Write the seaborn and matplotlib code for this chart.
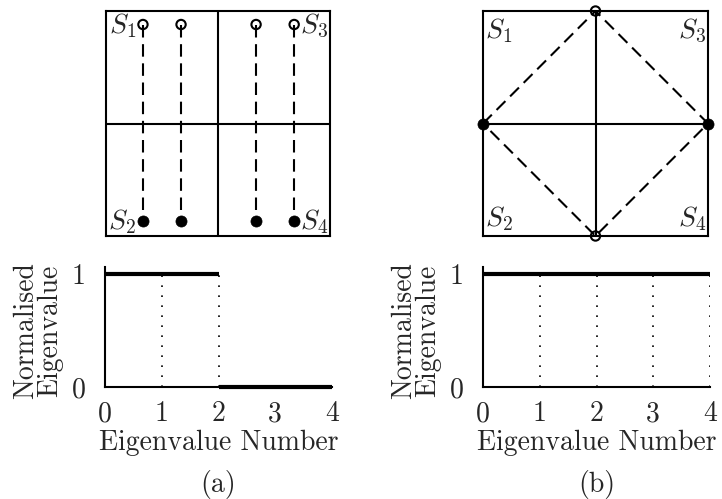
import matplotlib
matplotlib.use("Agg")
import matplotlib.pyplot as plt
import numpy as np
import pandas as pd
import seaborn as sns

# Normalised eigenvalue spectra (value on each interval k-1..k)
eig_number = [1, 2, 3, 4]
eig_a = [1, 1, 0, 0]
eig_b = [1, 1, 1, 1]
x_ticks = [0, 1, 2, 3, 4]
y_ticks = [0, 1]

# Configuration (a): open sources on top row, filled on bottom row
a_x = [0.165, 0.335, 0.67, 0.84]
a_open_y = [0.94, 0.94, 0.94, 0.94]
a_fill_y = [0.067, 0.067, 0.067, 0.067]

# Configuration (b): open at top/bottom centre, filled at left/right centre
b_open_x = [0.5, 0.5]
b_open_y = [1.0, 0.0]
b_fill_x = [0.0, 1.0]
b_fill_y = [0.5, 0.5]
diamond_x = [0.0, 0.5, 1.0, 0.5, 0.0]
diamond_y = [0.5, 1.0, 0.5, 0.0, 0.5]

sns.set_style("white")
plt.rcParams["font.family"] = ["cmr10"]
plt.rcParams["mathtext.fontset"] = "cm"
plt.rcParams["axes.formatter.use_mathtext"] = True

FS = 20
LW = 1.5
DASH = (0, (6.0, 3.2))

fig = plt.figure(figsize=(7.22, 4.99), dpi=100)
W, H = 722.0, 499.0


def px_axes(x0, y0, x1, y1):
    return fig.add_axes([x0 / W, 1 - y1 / H, (x1 - x0) / W, (y1 - y0) / H])


def frame(ax):
    ax.set_xlim(0, 1)
    ax.set_ylim(0, 1)
    ax.set_xticks([])
    ax.set_yticks([])
    for s in ax.spines.values():
        s.set_visible(True)
        s.set_color("black")
        s.set_linewidth(LW)
    ax.set_facecolor("white")


def markers(ax, ox, oy, fx, fy):
    sns.scatterplot(x=ox, y=oy, ax=ax, s=45, color="black", facecolor="none",
                    edgecolor="black", linewidth=1.5, clip_on=False, zorder=4)
    sns.scatterplot(x=fx, y=fy, ax=ax, s=64, color="black", edgecolor="black",
                    linewidth=0.5, clip_on=False, zorder=4)


# ---- top-left diagram
ax1 = px_axes(106, 11, 330, 236)
frame(ax1)
ax1.axhline(0.5, color="black", lw=LW)
ax1.axvline(0.5, color="black", lw=LW)
seg = pd.DataFrame({
    "x": [v for v in a_x for _ in range(2)],
    "y": [v for pair in zip(a_open_y, a_fill_y) for v in pair],
    "u": [i for i in range(len(a_x)) for _ in range(2)],
})
sns.lineplot(data=seg, x="x", y="y", units="u", estimator=None, sort=False,
             ax=ax1, color="black", lw=LW, linestyle=DASH)
markers(ax1, a_x, a_open_y, a_x, a_fill_y)
ax1.text(0.134, 0.935, r"$S_1$", ha="right", va="center", fontsize=FS)
ax1.text(0.866, 0.935, r"$S_3$", ha="left", va="center", fontsize=FS)
ax1.text(0.134, 0.065, r"$S_2$", ha="right", va="center", fontsize=FS)
ax1.text(0.866, 0.065, r"$S_4$", ha="left", va="center", fontsize=FS)
ax1.set_xlabel("")
ax1.set_ylabel("")

# ---- top-right diagram
ax2 = px_axes(483, 11, 708, 236)
frame(ax2)
ax2.axhline(0.5, color="black", lw=LW)
ax2.axvline(0.5, color="black", lw=LW)
sns.lineplot(x=diamond_x, y=diamond_y, estimator=None, sort=False, ax=ax2,
             color="black", lw=LW, linestyle=DASH)
markers(ax2, b_open_x, b_open_y, b_fill_x, b_fill_y)
ax2.text(0.01, 0.975, r"$S_1$", ha="left", va="top", fontsize=FS)
ax2.text(0.99, 0.975, r"$S_3$", ha="right", va="top", fontsize=FS)
ax2.text(0.01, 0.015, r"$S_2$", ha="left", va="bottom", fontsize=FS)
ax2.text(0.99, 0.015, r"$S_4$", ha="right", va="bottom", fontsize=FS)
ax2.set_xlabel("")
ax2.set_ylabel("")


# ---- eigenvalue spectra
def spectrum(ax, values):
    df = pd.DataFrame({
        "x": [k + d for k in eig_number for d in (-1, 0)],
        "y": [v for v in values for _ in range(2)],
        "k": [k for k in eig_number for _ in range(2)],
    })
    keep = [k for k, v in zip(eig_number, values) if v > 0]
    tops = [v for v in values if v > 0]
    ax.vlines(keep, 0, tops, colors="black", lw=1.2, linestyles=(0, (1, 5)))
    sns.lineplot(data=df, x="x", y="y", units="k", estimator=None, ax=ax,
                 color="black", lw=3.0, solid_capstyle="butt", clip_on=False,
                 zorder=4)
    ax.set_xlim(0, 4)
    ax.set_ylim(0, 1.06)
    ax.set_xticks(x_ticks)
    ax.set_xticklabels([str(t) for t in x_ticks])
    ax.set_yticks(y_ticks)
    ax.set_yticklabels([str(t) for t in y_ticks])
    ax.tick_params(axis="both", length=0, labelsize=FS)
    ax.tick_params(axis="x", pad=10)
    ax.tick_params(axis="y", pad=14)
    for name in ("top", "right"):
        ax.spines[name].set_visible(False)
    for name in ("left", "bottom"):
        ax.spines[name].set_color("black")
        ax.spines[name].set_linewidth(LW)
    ax.set_xlabel("Eigenvalue Number", fontsize=FS, labelpad=2)
    ax.set_ylabel("Normalised\nEigenvalue", fontsize=FS, linespacing=0.9)
    ax.yaxis.set_label_coords(-0.185, 0.47)


ax3 = fig.add_axes([105 / W, 1 - 387 / H, 227 / W, 120 / H])
spectrum(ax3, eig_a)
ax4 = fig.add_axes([483 / W, 1 - 387 / H, 227 / W, 120 / H])
spectrum(ax4, eig_b)

fig.text(218 / W, 1 - 492 / H, "(a)", ha="center", va="baseline", fontsize=FS)
fig.text(597 / W, 1 - 492 / H, "(b)", ha="center", va="baseline", fontsize=FS)

fig.savefig("out.png", dpi=100, facecolor="white")
